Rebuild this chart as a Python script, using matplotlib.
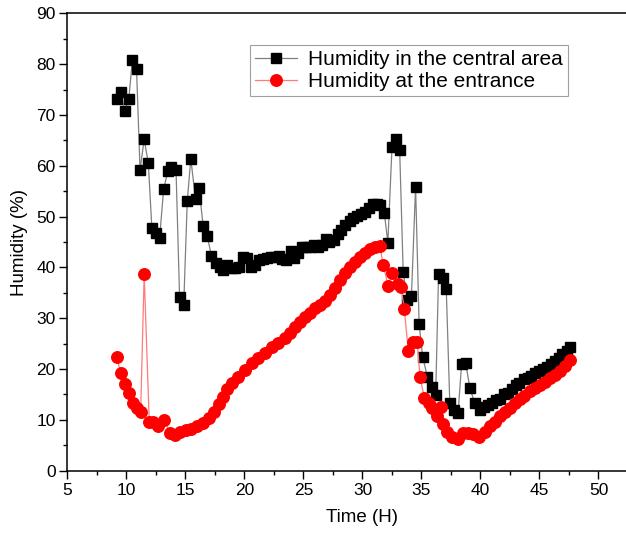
import matplotlib
matplotlib.use("Agg")
import matplotlib.pyplot as plt
from matplotlib.ticker import MultipleLocator

plt.rcParams['font.family'] = ['Liberation Sans', 'DejaVu Sans']

# Humidity in the central area (time in hours, humidity in %)
central_time = [9.2, 9.5, 9.85, 10.2, 10.5, 10.85, 11.15, 11.5, 11.85, 12.15,
                12.5, 12.8, 13.15, 13.5, 13.8, 14.2, 14.5, 14.85, 15.15, 15.45,
                15.85, 16.15, 16.5, 16.85, 17.2, 17.55, 17.9, 18.2, 18.55, 18.9,
                19.2, 19.55, 19.9, 20.2, 20.55, 20.9, 21.2, 21.55, 21.9, 22.25,
                22.55, 22.9, 23.2, 23.55, 23.9, 24.2, 24.55, 24.9, 25.2, 25.55,
                25.9, 26.2, 26.55, 26.9, 27.2, 27.55, 27.9, 28.2, 28.55, 28.9,
                29.2, 29.55, 29.9, 30.2, 30.55, 30.85, 31.2, 31.5, 31.85, 32.15,
                32.5, 32.8, 33.15, 33.45, 33.8, 34.15, 34.5, 34.8, 35.1, 35.5,
                35.85, 36.2, 36.45, 36.8, 37.1, 37.4, 37.75, 38.1, 38.4, 38.75,
                39.1, 39.5, 39.95, 40.3, 40.65, 41.0, 41.3, 41.65, 42.0, 42.3,
                42.65, 43.0, 43.3, 43.65, 44.0, 44.3, 44.65, 45.0, 45.3, 45.65,
                46.0, 46.3, 46.65, 46.95, 47.3, 47.6]
central_hum = [73.1, 74.6, 70.8, 73.2, 80.9, 79.1, 59.2, 65.2, 60.5, 47.8,
               46.7, 45.7, 55.4, 58.9, 59.8, 59.1, 34.2, 32.6, 53.0, 61.4,
               53.5, 55.6, 48.1, 46.2, 42.2, 40.8, 40.0, 39.5, 40.5, 39.8,
               39.8, 40.0, 42.0, 41.8, 40.0, 40.5, 41.4, 41.6, 41.8, 42.0,
               42.0, 42.2, 41.6, 41.4, 43.2, 41.8, 42.8, 44.0, 44.1, 44.0,
               44.5, 44.0, 44.4, 45.6, 45.0, 45.4, 46.6, 47.4, 48.4, 49.2,
               49.8, 50.2, 50.6, 51.0, 51.6, 52.5, 52.4, 52.3, 50.7, 44.9,
               63.6, 65.2, 63.2, 39.1, 33.6, 34.4, 55.9, 28.8, 22.4, 18.5,
               16.4, 14.8, 38.8, 38.0, 35.7, 13.3, 12.0, 11.3, 21.0, 21.1,
               16.3, 13.4, 12.0, 12.5, 13.0, 13.4, 14.0, 14.2, 15.0, 15.2,
               16.0, 16.8, 17.3, 18.0, 18.2, 18.6, 19.2, 19.6, 20.0, 20.4,
               21.0, 21.6, 22.2, 22.9, 23.6, 24.4]

# Humidity at the entrance
entrance_time = [9.17, 9.51, 9.85, 10.19, 10.53, 10.86, 11.2, 11.5, 11.93, 12.27,
                 12.7, 13.2, 13.69, 14.1, 14.53, 15.04, 15.5, 16.0, 16.5, 17.0,
                 17.4, 17.8, 18.15, 18.5, 18.9, 19.48, 20.04, 20.6, 21.17, 21.74,
                 22.3, 22.87, 23.43, 23.86, 24.28, 24.7, 25.13, 25.55, 25.97, 26.4,
                 26.82, 27.25, 27.67, 28.1, 28.5, 28.94, 29.36, 29.8, 30.2, 30.64,
                 31.06, 31.48, 31.76, 32.19, 32.53, 32.98, 33.26, 33.54, 33.88, 34.3,
                 34.64, 34.87, 35.24, 35.64, 35.86, 36.29, 36.63, 36.85, 37.14, 37.56,
                 38.12, 38.54, 38.97, 39.39, 39.87, 40.38, 40.8, 41.23, 41.65, 42.08,
                 42.5, 42.92, 43.35, 43.7, 44.2, 44.6, 45.04, 45.47, 45.9, 46.3,
                 46.74, 47.16, 47.58]
entrance_hum = [22.4, 19.2, 17.0, 15.2, 13.4, 12.3, 11.5, 38.7, 9.6, 9.5,
                8.7, 10.0, 7.4, 7.0, 7.7, 8.0, 8.15, 8.7, 9.3, 10.3,
                11.5, 13.1, 14.6, 16.0, 17.2, 18.5, 19.8, 21.1, 22.1, 23.1,
                24.4, 25.2, 26.1, 27.0, 28.3, 29.3, 30.3, 31.1, 32.0, 32.6,
                33.4, 34.6, 35.9, 37.5, 38.9, 40.1, 41.1, 42.0, 42.8, 43.6,
                44.1, 44.2, 40.4, 36.3, 39.0, 36.7, 36.1, 31.9, 23.6, 25.4,
                25.4, 18.5, 14.4, 13.3, 12.3, 10.8, 12.6, 9.2, 7.7, 6.7,
                6.2, 7.5, 7.4, 7.2, 6.7, 7.7, 8.7, 9.6, 10.8, 11.6,
                12.4, 13.3, 14.1, 14.7, 15.6, 16.2, 16.9, 17.5, 18.2, 18.8,
                19.7, 20.6, 21.8]

fig = plt.figure(figsize=(6.26, 5.39), dpi=100)
ax = fig.add_axes([0.1078, 0.1267, 0.9425, 0.8486])

ax.plot(central_time, central_hum, color='#808080', lw=0.9, marker='s', ms=6.5,
        mfc='black', mec='black', label='Humidity in the central area')
ax.plot(entrance_time, entrance_hum, color='#ff7a7a', lw=0.9, marker='o', ms=8.3,
        mfc='red', mec='red', label='Humidity at the entrance')

ax.set_xlim(5, 55)
ax.set_ylim(0, 90)
ax.set_xticks(range(5, 55, 5))
ax.set_yticks(range(0, 91, 10))
ax.xaxis.set_minor_locator(MultipleLocator(2.5))
ax.yaxis.set_minor_locator(MultipleLocator(5))
ax.tick_params(which='major', direction='out', length=5.5, width=1, labelsize=12.5, pad=3)
ax.tick_params(which='minor', direction='out', length=3, width=1)
for s in ax.spines.values():
    s.set_linewidth(1.1)

ax.set_xlabel('Time (H)', fontsize=13.5, labelpad=8)
ax.set_ylabel('Humidity (%)', fontsize=13.5, labelpad=6)

leg = ax.legend(loc='upper left', bbox_to_anchor=(0.309, 0.931), fontsize=15,
                frameon=True, fancybox=False, edgecolor='#a0a0a0', framealpha=1,
                borderpad=0.25, handlelength=2.0, handletextpad=0.55, labelspacing=0.15,
                borderaxespad=0)
leg.get_frame().set_linewidth(0.8)

fig.savefig('out.png', dpi=100)
